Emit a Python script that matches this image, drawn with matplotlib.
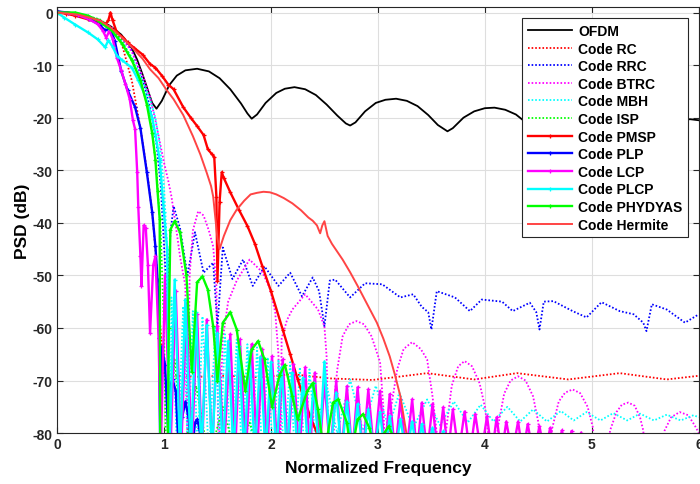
import matplotlib
matplotlib.use('Agg')
import matplotlib.pyplot as plt

plt.rcParams['font.family'] = ['Liberation Sans', 'DejaVu Sans']
plt.rcParams['font.weight'] = 'bold'
plt.rcParams['axes.unicode_minus'] = False

# ---- PSD curves (normalized frequency, dB) ----
ofdm_f = [0, 0.1, 0.2, 0.3, 0.4, 0.5, 0.6, 0.7, 0.75, 0.8, 0.85, 0.89, 0.93, 0.98, 1.05, 1.12, 1.2, 1.31, 1.42, 1.52,
          1.62, 1.72, 1.78, 1.82, 1.87, 1.95, 2.05, 2.13, 2.22, 2.32, 2.42, 2.52, 2.62, 2.7, 2.74, 2.79, 2.88, 2.98, 3.07, 3.17,
          3.27, 3.37, 3.47, 3.56, 3.65, 3.7, 3.8, 3.9, 4.0, 4.09, 4.19, 4.29, 4.37, 4.47, 4.56, 4.62, 4.72, 4.82, 4.92, 5.01,
          5.1, 5.2, 5.3, 5.4, 5.47, 5.53, 5.63, 5.73, 5.83, 5.92, 6.0]
ofdm_db = [0.2, 0, -0.3, -0.8, -1.5, -2.6, -4.2, -6.8, -9, -11.8, -14.8, -17.2, -18.3, -16.8, -13.8, -12, -11, -10.7, -11.2, -12.5,
           -14.6, -17.3, -19.2, -20.2, -19.4, -17.2, -15.3, -14.5, -14.2, -14.6, -15.7, -17.5, -19.6, -21.1, -21.5, -20.9, -18.8, -17.2, -16.6, -16.4,
           -16.8, -17.8, -19.5, -21.4, -22.6, -22.0, -20.0, -18.8, -18.2, -18.1, -18.5, -19.4, -20.7, -22.4, -23.5, -23.0, -21.2, -20.0, -19.5, -19.3,
           -19.7, -20.6, -22.2, -23.7, -24.3, -23.6, -21.9, -20.8, -20.4, -20.3, -20.5]

rc_f = [0, 0.2, 0.4, 0.5, 0.6, 0.7, 0.78, 0.84, 0.89, 0.92, 0.96, 1.0, 1.3, 1.6, 1.9, 2.2, 2.55, 2.95, 3.46, 3.9,
        4.3, 4.78, 5.26, 5.7, 6.0]
rc_db = [0, -0.4, -1.6, -3.0, -5.5, -13, -22, -30, -38, -45, -58, -69.0, -69.3, -69.1, -69.4, -68.8, -69.6, -69.9, -68.6, -69.8,
         -68.6, -69.8, -68.6, -69.8, -69.1]

rrc_f = [0, 0.2, 0.4, 0.5, 0.6, 0.7, 0.8, 0.87, 0.93, 0.97, 1.03, 1.06, 1.09, 1.15, 1.22, 1.29, 1.37, 1.46, 1.5, 1.55,
         1.64, 1.74, 1.83, 1.94, 2.07, 2.18, 2.29, 2.39, 2.45, 2.5, 2.55, 2.6, 2.74, 2.88, 3.04, 3.21, 3.33, 3.41, 3.47, 3.5,
         3.55, 3.72, 3.86, 3.97, 4.16, 4.26, 4.42, 4.48, 4.51, 4.55, 4.64, 4.82, 4.95, 5.09, 5.26, 5.39, 5.48, 5.51, 5.56, 5.7,
         5.87, 6.0]
rrc_db = [0.2, -0.3, -1.5, -2.8, -4.8, -7.2, -12.7, -18, -25, -33, -55, -42, -36.8, -41, -50, -41.8, -49.5, -47.6, -59.7, -44.7,
          -50.7, -47, -52, -48.3, -52, -49.5, -54, -50.4, -53, -59.7, -51, -50.8, -54.2, -51.5, -51.7, -54.2, -53.6, -56, -57, -60.3,
          -53, -54.2, -56.8, -54.6, -55, -56.8, -55.2, -57, -60.3, -55, -54.9, -56.8, -58, -55.1, -56.8, -57.4, -59, -60.6, -55.5, -56.5,
          -59, -57.4]

btrc_f = [0, 0.2, 0.4, 0.5, 0.6, 0.7, 0.8, 0.87, 0.92, 0.96, 1.0, 1.04, 1.07, 1.11, 1.15, 1.2, 1.22, 1.24, 1.27, 1.32,
          1.37, 1.42, 1.46, 1.49, 1.51,
          1.55, 1.6, 1.68, 1.8, 1.92, 1.99, 2.04, 2.07, 2.09,
          2.1, 2.15, 2.2, 2.32, 2.44, 2.5, 2.52, 2.54,
          2.58, 2.6, 2.62, 2.67, 2.73, 2.8, 2.87, 2.94, 3.02, 3.05, 3.07,
          3.09, 3.11, 3.18, 3.24, 3.32, 3.4, 3.46, 3.51, 3.55, 3.57,
          3.62, 3.64, 3.69, 3.75, 3.81, 3.88, 3.95, 4.0, 4.03, 4.05,
          4.1, 4.12, 4.18, 4.24, 4.31, 4.38, 4.45, 4.5, 4.52,
          4.6, 4.63, 4.69, 4.75, 4.82, 4.89, 4.96, 5.01, 5.03,
          5.14, 5.17, 5.23, 5.28, 5.34, 5.4, 5.45, 5.48, 5.5,
          5.65, 5.68, 5.74, 5.82, 5.9, 5.96, 6.0]
btrc_db = [0.2, -0.3, -1.4, -2.6, -4.5, -7.5, -12, -16, -20.5, -24.5, -28.5, -32, -35, -40.5, -46.4, -52, -85, -50, -41.5, -37.8,
           -38.6, -41.5, -44.5, -52, -85,
           -62, -55, -51, -47, -49.4, -52.5, -57, -65, -85,
           -62, -58.5, -56.5, -53.6, -56.5, -59.7, -65.4, -85,
           -85, -72, -67.9, -61.6, -59.3, -58.7, -59.3, -61.6, -66.5, -75, -85,
           -85, -76.8, -67.9, -64, -62.7, -64, -66, -73, -80, -85,
           -85, -79, -71, -67.3, -66.3, -67.3, -70.5, -75, -80, -85,
           -85, -79, -72.5, -70, -69.2, -70, -73, -78, -85,
           -85, -79, -74, -72.3, -71.7, -72.4, -75, -79, -85,
           -85, -79.5, -76, -74.6, -74.2, -74.8, -77, -79.5, -85,
           -85, -79.5, -77, -76, -76.6, -78.5, -80]

mbh_f = [0, 0.2, 0.4, 0.5, 0.6, 0.7, 0.8, 0.87, 0.92, 0.96, 1.0, 1.03, 1.05, 1.06,
         1.07, 1.125, 1.18, 1.225, 1.27, 1.315, 1.36, 1.42, 1.48, 1.525, 1.57, 1.625, 1.68, 1.73, 1.78, 1.825,
         1.87, 1.92, 1.97, 2.02, 2.07, 2.125, 2.18, 2.225, 2.27, 2.315, 2.36, 2.43,
         2.5, 2.62, 2.74, 2.86, 2.98, 3.1, 3.2, 3.33, 3.46, 3.58, 3.71, 3.84, 3.96, 4.08, 4.21, 4.33, 4.45, 4.58,
         4.71, 4.83, 4.95, 5.08, 5.2, 5.33, 5.45, 5.58, 5.7, 5.83, 5.95, 6.0]
mbh_db = [0, -0.4, -1.6, -3, -5.3, -8.6, -13, -16.5, -20, -25, -33, -45, -60, -85,
          -54.2, -85, -55.9, -85, -56.8, -85, -57.8, -85, -59.9, -85, -61.2, -85, -62.2, -85, -63.1, -85,
          -63.7, -85, -65.6, -85, -66, -85, -66.5, -85, -67.5, -85, -67.9, -85,
          -69, -80, -69.8, -79.5, -71, -79, -72.3, -79, -73.6, -78.5, -74, -78, -74.6, -77.8, -75, -77.8, -75.5, -77.8,
          -75.8, -77.6, -76, -77.6, -76.2, -77.6, -76.3, -77.6, -76.5, -77.6, -76.6, -77]

isp_f = [0, 0.2, 0.4, 0.5, 0.6, 0.7, 0.78, 0.84, 0.89, 0.93, 0.97, 1.0, 1.02, 1.1, 1.18, 1.3, 1.42, 1.55, 1.68, 1.8,
         1.92, 2.05, 2.15, 6.0]
isp_db = [0, -0.2, -1.3, -2.8, -5.2, -8.8, -12.8, -17, -22.5, -30, -42, -60, -85, -66, -85, -71, -85, -75, -85, -78,
          -85, -79.5, -85, -85]

pmsp_f = [0, 0.08, 0.17, 0.29, 0.38, 0.45, 0.48, 0.5, 0.52, 0.56, 0.62, 0.66, 0.72, 0.8, 0.87, 0.92, 0.98, 1.04, 1.09, 1.18,
          1.25, 1.31, 1.37, 1.41, 1.45, 1.47, 1.49, 1.5, 1.52, 1.54, 1.56, 1.62, 1.7, 1.78, 1.85, 1.92, 2.0, 2.11, 2.18, 2.25,
          2.31, 2.37, 2.43, 2.47]
pmsp_db = [0, -0.2, -0.6, -1.3, -1.9, -2.3, -1.5, 0, -1.5, -3.8, -4.8, -5.7, -6.7, -8.0, -9.8, -10.5, -12.0, -13.7, -14.6, -18.0,
           -20.0, -21.6, -23.3, -26.0, -27.0, -27.5, -35.0, -51.0, -36.0, -30.4, -31.5, -34.2, -37.5, -40.6, -44.0, -48.3, -53.0, -60.3, -65.0, -69.8,
           -73.5, -77.0, -80.0, -84.0]

plp_f = [0, 0.1, 0.2, 0.3, 0.4, 0.45, 0.5, 0.54, 0.6, 0.66, 0.73, 0.78, 0.84, 0.89, 0.92, 0.94, 0.955, 0.965, 0.98, 1.01,
         1.04, 1.06, 1.08, 1.11, 1.14, 1.17, 1.2, 1.23, 1.26, 1.29, 1.31, 1.33, 1.36]
plp_db = [0.2, 0.0, -0.4, -1.2, -2.4, -3.4, -3.0, -5.4, -11.1, -14.8, -18.0, -22.0, -30.4, -38.0, -44.5, -50.8, -62.0, -84.0, -63.5, -67.0,
          -80.0, -71.0, -69.8, -72.0, -84.0, -77.0, -74.0, -77.0, -84.0, -78.0, -77.4, -79.0, -84.0]

lcp_f = [0, 0.1, 0.2, 0.3, 0.38, 0.43, 0.46, 0.49, 0.52, 0.56, 0.6, 0.64, 0.68, 0.71, 0.73, 0.75, 0.76, 0.78, 0.79, 0.81,
         0.83, 0.85, 0.87, 0.9, 0.92, 0.95, 0.97,
         1.01, 1.06, 1.11, 1.16, 1.21, 1.26, 1.31, 1.355, 1.4, 1.45, 1.5, 1.56, 1.62, 1.665, 1.71, 1.765, 1.82, 1.87, 1.92, 1.965,
         2.01, 2.06, 2.11, 2.16, 2.21, 2.265, 2.32, 2.365, 2.41, 2.455, 2.5, 2.555, 2.61, 2.66, 2.71, 2.76, 2.81, 2.86, 2.91, 2.965,
         3.02, 3.065, 3.11, 3.16, 3.21, 3.265, 3.32, 3.365, 3.41, 3.46, 3.51, 3.56, 3.61, 3.655, 3.7, 3.755, 3.81, 3.86, 3.91, 3.965,
         4.02, 4.065, 4.11, 4.155, 4.2, 4.255, 4.31, 4.355, 4.4, 4.455, 4.51, 4.56, 4.61, 4.665, 4.72, 4.765, 4.81, 4.855, 4.9, 4.95]
lcp_db = [0, -0.1, -0.5, -1.3, -2.2, -3.5, -4.8, -3.5, -5, -8.6, -11, -13.6, -16.5, -20.5, -22.2, -30.4, -37, -46.4, -52, -40.5,
          -41, -48, -61, -48, -46.4, -62, -84,
          -50, -84, -53, -84, -55.5, -84, -57.4, -84, -58.4, -84, -59.7, -84, -61.2, -84, -62.2, -84, -63.1, -84, -64.1, -84,
          -65.4, -84, -66, -84, -66.9, -84, -67.5, -84, -68.5, -84, -70.1, -84, -70.1, -84, -71.1, -84, -71.3, -84, -71.7, -84,
          -72, -84, -72.6, -84, -73.6, -84, -73.6, -84, -74.2, -84, -74.5, -84, -75.1, -84, -75.5, -84, -75.9, -84, -76.4, -84,
          -76.8, -84, -77, -84, -77.8, -84, -77.8, -84, -78.3, -84, -78.7, -84, -79, -84, -79.5, -84, -79.6, -84, -79.9, -84]

plcp_f = [0, 0.07, 0.17, 0.29, 0.38, 0.45, 0.48, 0.52, 0.56, 0.61, 0.7, 0.76, 0.82, 0.89, 0.92, 0.96, 1.0, 1.03, 1.05,
          1.1, 1.15, 1.2, 1.25, 1.3, 1.35, 1.4, 1.45, 1.5, 1.55, 1.6, 1.65, 1.7, 1.75, 1.8, 1.85, 1.9, 1.95, 2.0, 2.05,
          2.1, 2.15, 2.2, 2.25, 2.3, 2.35, 2.4, 2.45, 2.5, 2.555, 2.61, 2.66, 2.71, 2.76, 2.81, 2.86, 2.91, 2.965, 3.02, 3.065,
          3.11, 3.16, 3.21, 3.265, 3.32, 3.365, 3.41, 3.46, 3.51, 3.56, 3.61, 3.66]
plcp_db = [0, -1, -2.3, -3.8, -5.1, -6.6, -5.3, -6.5, -8.2, -9.1, -10.5, -12.9, -15.6, -20, -23.2, -28, -38, -45, -84,
           -50.8, -84, -54.6, -84, -57, -84, -59.5, -84, -61, -84, -62.5, -84, -63.5, -84, -64.5, -84, -65.5, -84, -66.5, -84,
           -67.5, -84, -68.5, -84, -69.5, -84, -70.5, -84, -66.4, -84, -72.3, -84, -74, -84, -74.5, -84, -75.5, -84, -76, -84,
           -76.8, -84, -77.4, -84, -77.8, -84, -78.3, -84, -79, -84, -79.7, -84]

phy_f = [0, 0.17, 0.29, 0.38, 0.51, 0.61, 0.7, 0.78, 0.84, 0.89, 0.92, 0.94, 0.96, 0.965, 1.035, 1.045, 1.06, 1.1, 1.15, 1.21,
         1.26, 1.31, 1.36, 1.41, 1.46, 1.5, 1.55, 1.62, 1.68, 1.76, 1.82, 1.88, 1.94, 2.01, 2.08, 2.13, 2.2, 2.25, 2.34, 2.39,
         2.44, 2.5, 2.58, 2.63, 2.71, 2.75, 2.81, 2.86, 2.92, 2.98, 3.06, 3.1, 3.15, 3.2]
phy_db = [0, 0, -0.6, -1.5, -3.4, -6, -9.1, -12.9, -17.5, -23, -28, -34, -39.3, -84, -84, -60, -41.3, -39.7, -41.8, -50,
          -68.4, -51.3, -50.2, -52.7, -59.7, -70, -59, -57, -60.3, -72, -64.1, -62.5, -66, -75, -69, -67, -73, -77.4, -72, -70.5,
          -75.5, -84, -74.2, -73.6, -78, -84, -77.4, -76.4, -79, -84, -80, -78.7, -81, -86]

herm_f = [0, 0.2, 0.4, 0.5, 0.6, 0.7, 0.8, 0.87, 0.95, 1.02, 1.09, 1.18, 1.27, 1.34, 1.4, 1.44, 1.46, 1.48, 1.5, 1.52,
          1.56, 1.62, 1.68, 1.75, 1.81, 1.87, 1.93, 1.99, 2.05, 2.12, 2.2, 2.28, 2.35, 2.39, 2.43, 2.46, 2.48, 2.5, 2.53, 2.57,
          2.62, 2.67, 2.74, 2.81, 2.9, 2.99, 3.05, 3.11, 3.16, 3.21, 3.26, 3.3]
herm_db = [0, -0.4, -1.5, -2.8, -4.6, -6.6, -8.8, -10.8, -12.5, -14.6, -16.5, -19.5, -23.5, -27, -30.5, -33, -35, -39, -43, -45,
           -42.5, -39.5, -37.5, -35.8, -34.6, -34.3, -34.1, -34.2, -34.6, -35.3, -36.3, -37.6, -39, -39.6, -40.5, -42, -40.5, -39.7, -42.5, -44,
           -45.5, -47, -49.4, -52, -55.5, -59, -62, -65.4, -69, -73, -79.3, -84]

x_ticks = [0, 1, 2, 3, 4, 5, 6]
y_ticks = [0, -10, -20, -30, -40, -50, -60, -70, -80]

dot = dict(ls=(0, (0.9, 1.1)), lw=1.3)
mk = dict(ls='-', lw=1.7, marker='+', ms=3.5, mew=0.9)
series = [
    ('OFDM', ofdm_f, ofdm_db, dict(color='k', ls='-', lw=1.3)),
    ('Code RC', rc_f, rc_db, dict(color='#ff0000', **dot)),
    ('Code RRC', rrc_f, rrc_db, dict(color='#0000ff', **dot)),
    ('Code BTRC', btrc_f, btrc_db, dict(color='#ff00ff', **dot)),
    ('Code MBH', mbh_f, mbh_db, dict(color='#00ffff', **dot)),
    ('Code ISP', isp_f, isp_db, dict(color='#00ff00', **dot)),
    ('Code PMSP', pmsp_f, pmsp_db, dict(color='#ff0000', **mk)),
    ('Code PLP', plp_f, plp_db, dict(color='#0000ff', **mk)),
    ('Code LCP', lcp_f, lcp_db, dict(color='#ff00ff', **mk)),
    ('Code PLCP', plcp_f, plcp_db, dict(color='#00ffff', **mk)),
    ('Code PHYDYAS', phy_f, phy_db, dict(color='#00ff00', **mk)),
    ('Code Hermite', herm_f, herm_db, dict(color='#ff4444', ls='-', lw=1.4)),
]

fig = plt.figure(figsize=(7.0, 4.85), dpi=100)
ax = fig.add_axes([0.0814, 0.105, 0.917, 0.878])

for label, f, db, style in series:
    ax.plot(f, db, label=label, **style)

ax.set_xlim(0, 6)
ax.set_ylim(-80, 1)
ax.set_xticks(x_ticks)
ax.set_yticks(y_ticks)
ax.tick_params(direction='in', top=True, right=True, length=4, width=0.8,
               labelsize=10, colors='#262626', pad=3)
for lab in ax.get_xticklabels() + ax.get_yticklabels():
    lab.set_fontweight('bold')
ax.grid(True, color='#dedede', lw=0.8)
ax.set_axisbelow(True)
for sp in ax.spines.values():
    sp.set_color('#262626')
    sp.set_linewidth(0.8)

ax.set_xlabel('Normalized Frequency', fontsize=12.5, fontweight='bold', labelpad=6)
ax.set_ylabel('PSD (dB)', fontsize=12.5, fontweight='bold', labelpad=2)

leg = ax.legend(loc='upper right', prop={'size': 10, 'weight': 'bold'}, handlelength=3.2,
                handletextpad=0.4, labelspacing=0.26, borderpad=0.4, borderaxespad=0.8,
                fancybox=False, edgecolor='#262626', framealpha=1)
leg.get_frame().set_linewidth(0.8)

fig.savefig('out.png', dpi=100)
